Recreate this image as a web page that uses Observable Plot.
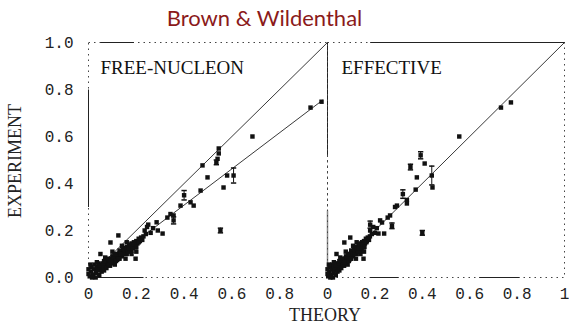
<!DOCTYPE html>
<html>
<head>
<meta charset="utf-8">
<script src="https://cdn.jsdelivr.net/npm/d3@7"></script>
<script src="https://cdn.jsdelivr.net/npm/@observablehq/plot@0.6"></script>
<style>
  html, body { margin: 0; padding: 0; background: #fff; }
  body { width: 569px; height: 324px; position: relative; overflow: hidden; }
  #title { position: absolute; left: 0; top: 7px; width: 529px; text-align: center;
           font-family: Lato, "Open Sans", sans-serif; font-size: 22px; line-height: 22px; color: #8b1a1a; }
  #charts { position: absolute; left: 0; top: 32px; display: flex; }
  #charts svg { overflow: visible; }
  #ylab { position: absolute; left: 15px; top: 161px; transform: translate(-50%, -50%) rotate(-90deg);
          white-space: nowrap; font-family: "Liberation Serif", serif; font-size: 18px; line-height: 18px; color: #222; }
  #xlab { position: absolute; left: 325px; top: 308px; transform: translateX(-50%);
          white-space: nowrap; font-family: "Liberation Serif", serif; font-size: 18px; line-height: 15px; color: #222; }
</style>
</head>
<body>
<div id="title">Brown &amp; Wildenthal</div>
<div id="ylab">EXPERIMENT</div>
<div id="charts"></div>
<div id="xlab">THEORY</div>
<script>
// ---- data ----
const panels = ["FREE-NUCLEON", "EFFECTIVE"];
const yTicks = [0, 0.2, 0.4, 0.6, 0.8, 1.0];
const xTicksFree = [0, 0.2, 0.4, 0.6, 0.8];
const xTicksEff = [0, 0.2, 0.4, 0.6, 0.8, 1];

// free-nucleon panel: theory, experiment, error
const freeTheory = [
  0.005,0.01,0.012,0.02,0.022,0.025,0.03,0.032,0.035,0.04,0.042,0.045,0.05,0.055,0.055,0.06,0.065,0.07,0.07,0.075,
  0.08,0.085,0.09,0.09,0.095,0.10,0.10,0.105,0.11,0.115,0.12,0.12,0.125,0.13,0.13,0.135,0.14,0.14,0.145,0.15,
  0.15,0.155,0.16,0.16,0.165,0.17,0.175,0.18,0.18,0.185,0.19,0.195,0.20,0.205,0.21,0.215,0.22,
  0.05,0.07,0.092,0.10,0.125,0.14,0.16,
  0.11,0.155,0.155,0.18,0.197,0.197,0.20,
  0.235,0.245,0.25,0.26,0.27,0.285,0.29,0.31,0.33,0.343,0.356,0.356,0.385,0.40,0.427,0.44,0.469,0.477,0.498,
  0.535,0.54,0.545,0.545,0.552,0.565,0.58,0.607,0.686,0.929,0.975,
  0.015,0.0,0.0,0.008,0.035,0.045,0.06,0.065,0.08,0.085,0.095,0.105,0.11,0.115,0.125,
  0.13,0.135,0.145,0.15,0.16,0.165,0.17,0.175,0.185,0.19,0.20,0.21,0.225,0.23,0.24
];
const freeExperiment = [
  0.005,0.025,0.045,0.01,0.035,0.055,0.0,0.02,0.045,0.03,0.06,0.01,0.04,0.025,0.055,0.045,0.03,0.05,0.065,0.04,
  0.06,0.075,0.05,0.065,0.08,0.07,0.09,0.06,0.08,0.095,0.075,0.10,0.09,0.105,0.08,0.095,0.11,0.09,0.12,0.105,
  0.125,0.115,0.13,0.10,0.12,0.135,0.125,0.145,0.115,0.135,0.15,0.14,0.155,0.145,0.165,0.155,0.17,
  0.10,0.085,0.149,0.11,0.179,0.135,0.15,
  0.055,0.08,0.123,0.10,0.08,0.128,0.11,
  0.20,0.215,0.225,0.19,0.21,0.235,0.20,0.187,0.255,0.27,0.243,0.264,0.306,0.35,0.32,0.306,0.37,0.477,0.426,
  0.49,0.505,0.528,0.549,0.20,0.383,0.434,0.434,0.60,0.723,0.748,
  0.0,0.015,0.035,0.055,0.065,0.05,0.06,0.07,0.08,0.055,0.065,0.085,0.10,0.07,0.08,
  0.115,0.10,0.10,0.115,0.12,0.11,0.125,0.14,0.125,0.14,0.13,0.15,0.16,0.175,0.185
];
const freeError = [
  0,0,0,0,0,0,0,0,0,0,0,0,0,0,0,0,0,0,0,0,
  0,0,0,0,0,0,0,0,0,0,0,0,0,0,0,0,0,0,0,0,
  0,0,0,0,0,0,0,0,0,0,0,0,0,0,0,0,0,
  0,0,0,0,0,0,0,
  0,0,0,0,0,0,0,
  0,0,0,0,0,0,0,0,0,0,0.015,0,0,0.02,0,0,0,0,0,
  0.01,0,0,0,0.01,0,0,0.032,0,0,0,
  0,0,0,0,0,0,0,0,0,0,0,0,0,0,0,
  0,0,0,0,0,0,0,0,0,0,0,0,0,0,0
];

// effective panel: theory, experiment, error
const effTheory = [
  0.003,0.008,0.01,0.015,0.018,0.02,0.023,0.025,0.028,0.03,0.033,0.035,0.04,0.042,0.043,0.047,0.05,0.055,0.055,0.058,
  0.062,0.066,0.07,0.07,0.074,0.077,0.078,0.081,0.085,0.089,0.092,0.093,0.097,0.10,0.10,0.104,0.108,0.108,0.112,0.116,
  0.116,0.12,0.123,0.123,0.127,0.131,0.135,0.139,0.139,0.143,0.146,0.15,0.154,0.158,0.162,0.166,0.17,
  0.038,0.054,0.071,0.077,0.096,0.108,0.123,
  0.085,0.12,0.12,0.139,0.152,0.152,0.154,
  0.18,0.18,0.193,0.20,0.208,0.215,0.222,0.23,0.239,0.254,0.264,0.272,0.285,0.293,0.318,0.335,0.335,0.35,0.372,
  0.377,0.393,0.40,0.41,0.44,0.443,0.556,0.732,0.774,
  0.012,0.0,0.0,0.006,0.027,0.035,0.047,0.05,0.062,0.066,0.074,0.082,0.086,0.09,0.097,
  0.10,0.105,0.113,0.117,0.125,0.129,0.133,0.136,0.144,0.148,0.156,0.164,0.175,0.179,0.187
];
const effExperiment = [
  0.005,0.025,0.045,0.01,0.035,0.055,0.0,0.02,0.045,0.03,0.06,0.01,0.04,0.025,0.055,0.045,0.03,0.05,0.065,0.04,
  0.06,0.075,0.05,0.065,0.08,0.07,0.09,0.06,0.08,0.095,0.075,0.10,0.09,0.105,0.08,0.095,0.11,0.09,0.12,0.105,
  0.125,0.115,0.13,0.10,0.12,0.135,0.125,0.145,0.115,0.135,0.15,0.14,0.155,0.145,0.165,0.155,0.17,
  0.10,0.085,0.149,0.11,0.17,0.135,0.15,
  0.055,0.08,0.123,0.10,0.08,0.128,0.11,
  0.20,0.225,0.215,0.19,0.21,0.187,0.243,0.234,0.187,0.255,0.264,0.22,0.30,0.306,0.355,0.315,0.33,0.47,0.374,
  0.426,0.52,0.19,0.485,0.434,0.383,0.60,0.723,0.745,
  0.0,0.015,0.035,0.055,0.065,0.05,0.06,0.07,0.08,0.055,0.065,0.085,0.10,0.07,0.08,
  0.115,0.10,0.10,0.115,0.12,0.11,0.125,0.14,0.125,0.14,0.13,0.15,0.16,0.175,0.185
];
const effError = [
  0,0,0,0,0,0,0,0,0,0,0,0,0,0,0,0,0,0,0,0,
  0,0,0,0,0,0,0,0,0,0,0,0,0,0,0,0,0,0,0,0,
  0,0,0,0,0,0,0,0,0,0,0,0,0,0,0,0,0,
  0,0,0,0,0,0,0,
  0,0,0,0,0,0,0,
  0,0.015,0,0,0,0,0,0,0,0,0,0.012,0,0,0.018,0,0,0.012,0,
  0,0.015,0.01,0,0.04,0,0,0,0,
  0,0,0,0,0,0,0,0,0,0,0,0,0,0,0,
  0,0,0,0,0,0,0,0,0,0,0,0,0,0,0
];

// reference lines [theory, experiment]
const freeUnitLine = [[0, 0], [1, 1]];
const freeQuenchedLine = [[0, 0], [0.98, 0.755]];
const effUnitLine = [[0, 0], [1, 1]];

// solid stretches of the (otherwise dotted) scanned frame
const freeEdges = [
  {x1: 0, y1: 0.3, x2: 0, y2: 0.8},
  {x1: 1, y1: 0.52, x2: 1, y2: 1},
  {x1: 0.02, y1: 0, x2: 0.23, y2: 0},
  {x1: 0.05, y1: 1, x2: 0.19, y2: 1}
];
const effEdges = [
  {x1: 0.18, y1: 1, x2: 1, y2: 1},
  {x1: 0.18, y1: 0, x2: 0.3, y2: 0},
  {x1: 0.64, y1: 0, x2: 0.81, y2: 0}
];
const effGrayEdges = [
  {x1: 0, y1: 0, x2: 0, y2: 0.285}
];

// ---- build ----
function table(t, e, err) {
  return t.map((v, i) => ({t: v, e: e[i], err: err[i]}));
}
const freeData = table(freeTheory, freeExperiment, freeError);
const effData = table(effTheory, effExperiment, effError);

const capSymbol = {
  draw(context, size) {
    const w = Math.sqrt(size) * 0.75;
    context.moveTo(-w, 0);
    context.lineTo(w, 0);
  }
};

const ink = "#111";
const fmtX = d => (d === 0 || d === 1) ? String(d) : d3.format(".1f")(d);

function panelMarks(data, lines, edges, label, dx) {
  const errs = data.filter(d => d.err > 0);
  return [
    Plot.frame({stroke: "#444", strokeDasharray: "1.5,4"}),
    Plot.link(edges, {x1: "x1", y1: "y1", x2: "x2", y2: "y2", stroke: "#222", strokeWidth: 1}),
    ...lines.map(l => Plot.line(l, {x: d => d[0], y: d => d[1], stroke: "#222", strokeWidth: 0.9})),
    Plot.ruleX(errs, {x: "t", y1: d => d.e - d.err, y2: d => d.e + d.err, stroke: ink, strokeWidth: 1}),
    Plot.dot(errs, {x: "t", y: d => d.e - d.err, symbol: capSymbol, r: 2, stroke: ink, fill: "none"}),
    Plot.dot(errs, {x: "t", y: d => d.e + d.err, symbol: capSymbol, r: 2, stroke: ink, fill: "none"}),
    Plot.dot(data, {x: "t", y: "e", symbol: "square", r: 2.5, fill: ink, stroke: "none"}),
    Plot.text([label], {text: d => d, frameAnchor: "top-left", textAnchor: "start", lineAnchor: "top",
      dx: dx, dy: 18, fontFamily: "Liberation Serif", fontSize: 19, fill: "#111"})
  ];
}

const common = {
  height: 273, marginTop: 10, marginBottom: 28,
  x: {domain: [0, 1]}, y: {domain: [0, 1]},
  style: {fontFamily: "Liberation Mono", fontSize: "16px", color: "#222", background: "transparent", overflow: "visible"}
};

const left = Plot.plot({
  ...common,
  width: 327, marginLeft: 88, marginRight: 0,
  marks: [
    Plot.axisY({ticks: yTicks, tickFormat: ".1f", tickSize: 0, tickPadding: 15, label: null}),
    Plot.axisX({ticks: xTicksFree, tickFormat: fmtX, tickSize: 0, tickPadding: 10, label: null}),
    ...panelMarks(freeData, [freeUnitLine, freeQuenchedLine], freeEdges, panels[0], 12)
  ]
});

const right = Plot.plot({
  ...common,
  width: 242, marginLeft: 0, marginRight: 5,
  marks: [
    Plot.axisY({ticks: [], label: null}),
    Plot.axisX({ticks: xTicksEff, tickFormat: fmtX, tickSize: 0, tickPadding: 10, label: null}),
    Plot.link(effGrayEdges, {x1: "x1", y1: "y1", x2: "x2", y2: "y2", stroke: "#888", strokeWidth: 1.5}),
    ...panelMarks(effData, [effUnitLine], effEdges, panels[1], 14)
  ]
});

const charts = document.getElementById("charts");
charts.appendChild(left);
charts.appendChild(right);
</script>
</body>
</html>
